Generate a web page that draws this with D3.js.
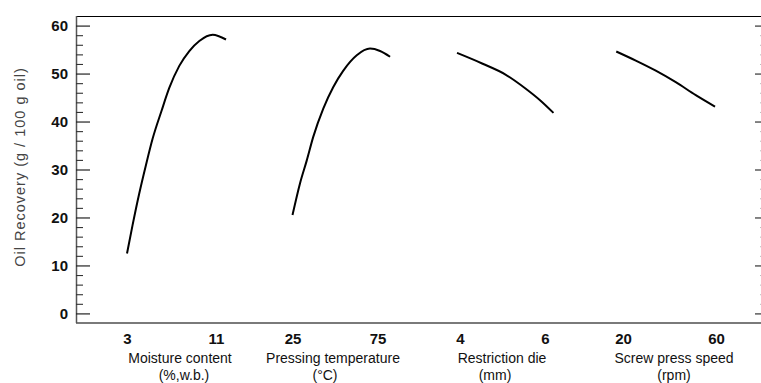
<!DOCTYPE html>
<html>
<head>
<meta charset="utf-8">
<script src="https://cdn.jsdelivr.net/npm/d3@7"></script>
<style>
  body { margin: 0; background: #fff; }
  svg text { font-family: "Liberation Sans", Arial, sans-serif; }
</style>
</head>
<body>
<div id="chart"></div>
<script>
var svgWidth = 761;
var svgHeight = 383;

// Data
var yTicks = [0, 10, 20, 30, 40, 50, 60];

var moistureX = [3, 3.5, 4.1, 4.7, 5.3, 6.1, 6.8, 7.7, 8.6, 9.5, 10.7, 11.9];
var moistureY = [12.5, 18.4, 25.0, 30.9, 36.4, 42.2, 47.0, 51.6, 54.7, 56.8, 58.1, 57.1];

var tempX = [25, 29.4, 33.4, 37.2, 43.1, 49, 54.9, 62.8, 70.6, 76.5, 82.4];
var tempY = [20.5, 27.1, 31.9, 36.8, 42.7, 47.2, 50.6, 53.8, 55.2, 54.7, 53.5];

var dieX = [3.93, 4.52, 5.07, 5.54, 5.89, 6.2];
var dieY = [54.3, 52.1, 49.8, 46.9, 44.4, 41.8];

var speedX = [17.1, 25.5, 34.1, 42.7, 51.3, 59.6];
var speedY = [54.6, 52.7, 50.6, 48.2, 45.5, 43.1];

var factorNames = ["Moisture content", "Pressing temperature", "Restriction die", "Screw press speed"];
var factorUnits = ["(%,w.b.)", "(\u00B0C)", "(mm)", "(rpm)"];
var factorTicks = [[3, 11], [25, 75], [4, 6], [20, 60]];

// Layout of each panel (pixel positions of the two tick values, label centres)
var panelRange = [[127, 216], [292.5, 377.5], [460, 545], [623, 716]];
var nameCenter = [180, 333, 502, 674];
var unitCenter = [184, 325, 495, 674];

var frame = { left: 76, right: 763, top: 16, bottom: 323 };

var svg = d3.select("#chart")
  .append("svg")
  .attr("width", svgWidth)
  .attr("height", svgHeight);

var y = d3.scaleLinear()
  .domain([-2, 62])
  .range([frame.bottom, frame.top]);

// frame lines
svg.append("line")
  .attr("x1", frame.left).attr("x2", frame.right)
  .attr("y1", frame.top + 0.5).attr("y2", frame.top + 0.5)
  .attr("stroke", "#000").attr("stroke-width", 1.2);
svg.append("line")
  .attr("x1", frame.left).attr("x2", frame.right)
  .attr("y1", frame.bottom).attr("y2", frame.bottom)
  .attr("stroke", "#7a7a7a").attr("stroke-width", 2);
svg.append("line")
  .attr("x1", frame.left + 0.5).attr("x2", frame.left + 0.5)
  .attr("y1", frame.top).attr("y2", frame.bottom)
  .attr("stroke", "#555").attr("stroke-width", 1.5);

// left axis: major ticks pointing inwards, minor every 2
var minorTicks = d3.range(2, 62, 2).filter(d => d % 10 !== 0);

var leftAxis = d3.axisRight(y).tickValues(yTicks).tickSize(14).tickFormat("");
var gLeft = svg.append("g")
  .attr("transform", `translate(${frame.left}, 0)`)
  .call(leftAxis);
gLeft.select(".domain").remove();
gLeft.selectAll("line").attr("stroke", "#222").attr("stroke-width", 1.2);

var leftMinor = d3.axisRight(y).tickValues(minorTicks).tickSize(7).tickFormat("");
var gLeftMinor = svg.append("g")
  .attr("transform", `translate(${frame.left}, 0)`)
  .call(leftMinor);
gLeftMinor.select(".domain").remove();
gLeftMinor.selectAll("line").attr("stroke", "#333").attr("stroke-width", 1.1);

// tick labels
svg.selectAll(".ylab")
  .data(yTicks)
  .enter()
  .append("text")
  .attr("class", "ylab")
  .attr("x", 68)
  .attr("y", d => y(d) + 5.5)
  .attr("text-anchor", "end")
  .attr("font-size", "15px")
  .attr("font-weight", "bold")
  .attr("fill", "#111")
  .text(d => d);

// right axis ticks (cut by the picture edge)
var rightAxis = d3.axisLeft(y).tickValues(yTicks).tickSize(6).tickFormat("");
var gRight = svg.append("g")
  .attr("transform", `translate(761, 0)`)
  .call(rightAxis);
gRight.select(".domain").remove();
gRight.selectAll("line").attr("stroke", "#333").attr("stroke-width", 1.2);

var rightMinor = d3.axisLeft(y).tickValues(minorTicks).tickSize(1).tickFormat("");
var gRightMinor = svg.append("g")
  .attr("transform", `translate(761, 0)`)
  .call(rightMinor);
gRightMinor.select(".domain").remove();
gRightMinor.selectAll("line").attr("stroke", "#bbb");

// y axis title
svg.append("text")
  .attr("transform", "rotate(-90)")
  .attr("x", -167)
  .attr("y", 25)
  .attr("text-anchor", "middle")
  .attr("font-size", "14.5px")
  .attr("letter-spacing", "1px")
  .attr("fill", "#444")
  .text("Oil Recovery (g / 100 g oil)");

// panels
var seriesX = [moistureX, tempX, dieX, speedX];
var seriesY = [moistureY, tempY, dieY, speedY];

factorNames.forEach(function(name, i) {
  var x = d3.scaleLinear()
    .domain(factorTicks[i])
    .range(panelRange[i]);

  var pts = seriesX[i].map((v, j) => [v, seriesY[i][j]]);
  var line = d3.line()
    .x(d => x(d[0]))
    .y(d => y(d[1]))
    .curve(d3.curveMonotoneX);

  svg.append("path")
    .datum(pts)
    .attr("d", line)
    .attr("fill", "none")
    .attr("stroke", "#000")
    .attr("stroke-width", 2);

  var bottomAxis = d3.axisBottom(x)
    .tickValues(factorTicks[i])
    .tickFormat(d3.format("d"))
    .tickSize(0)
    .tickPadding(0);
  var g = svg.append("g")
    .attr("transform", `translate(0, ${frame.bottom})`)
    .call(bottomAxis);
  g.select(".domain").remove();
  g.selectAll("text")
    .attr("y", 20.5)
    .attr("dy", 0)
    .attr("font-size", "15px")
    .attr("font-weight", "bold")
    .attr("font-family", "Liberation Sans, Arial, sans-serif")
    .attr("fill", "#111");

  svg.append("text")
    .attr("x", nameCenter[i])
    .attr("y", 363)
    .attr("text-anchor", "middle")
    .attr("font-size", "14px")
    .attr("fill", "#111")
    .text(name);

  svg.append("text")
    .attr("x", unitCenter[i])
    .attr("y", 380)
    .attr("text-anchor", "middle")
    .attr("font-size", "14px")
    .attr("fill", "#111")
    .text(factorUnits[i]);
});
</script>
</body>
</html>
